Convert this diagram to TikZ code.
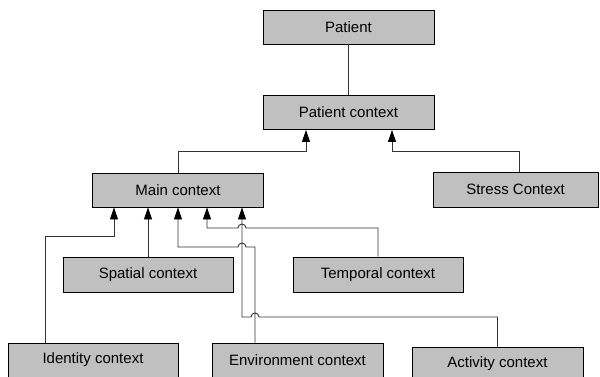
\documentclass[tikz,border=0pt]{standalone}
\usepackage{fontspec}
\setmainfont{Liberation Sans}
\usetikzlibrary{arrows.meta}
\definecolor{boxfill}{HTML}{C0C0C0}
\definecolor{linecol}{HTML}{333333}
\begin{document}
\begin{tikzpicture}[x=1pt,y=-1pt,
  box/.style={draw=black,fill=boxfill,line width=0.9pt,inner sep=0pt,
    minimum width=171pt,minimum height=34pt,font=\fontsize{15}{18}\selectfont},
  conn/.style={draw=linecol,line width=0.9pt},
  arr/.style={conn,-{Triangle[length=12pt,width=8pt,color=black]}}]
\useasboundingbox (0,0) rectangle (600,377);
\node[box] (patient) at (348.5,27) {Patient};
\node[box] (pctx) at (348.5,112.5) {Patient context};
\node[box] (main) at (178,190) {Main context};
\node[box,minimum width=165pt,minimum height=35pt] (stress) at (515.5,189.5) {Stress Context};
\node[box,minimum width=170pt,minimum height=35pt] (spatial) at (148,274.5) {Spatial context};
\node[box,minimum width=170pt,minimum height=35pt] (temporal) at (378,274.5) {Temporal context};
\node[box,minimum width=170pt] (identity) at (93,360) {Identity context};
\node[box] (env) at (297.5,360) {Environment context};
\node[box] (activity) at (497.5,364) {Activity context};

\draw[conn] (patient.south) -- (pctx.north);
\draw[arr] (main.north) |- (306,151) -- ([xshift=-42.5pt]pctx.south);
\draw[arr] ([xshift=3.5pt]stress.north) |- (392,151) -- ([xshift=43.5pt]pctx.south);
\draw[arr] (spatial.north) -- ([xshift=-30pt]main.south);
\draw[arr] ([xshift=-48pt]identity.north) |- (114,236) -- ([xshift=-64pt]main.south);
\draw[arr] (temporal.north) |- (246,228)
   arc[start angle=0,end angle=180,radius=4pt] -- (207,228) -- ([xshift=29pt]main.south);
\draw[arr] ([xshift=-42.5pt]env.north) |- (246,247)
   arc[start angle=0,end angle=180,radius=4pt] -- (178,247) -- (main.south);
\draw[arr] (activity.north) |- (259,317)
   arc[start angle=0,end angle=180,radius=4pt] -- (242,317) -- ([xshift=64pt]main.south);
\end{tikzpicture}
\end{document}
